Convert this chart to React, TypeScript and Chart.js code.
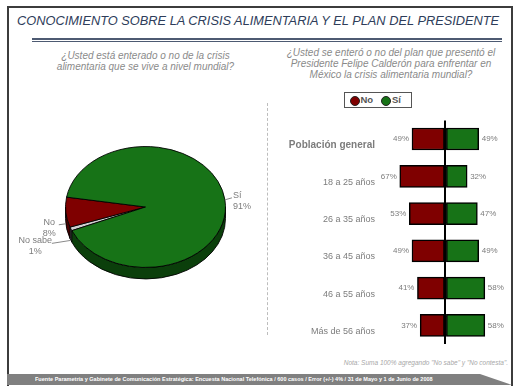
import React, { useEffect, useRef } from "react";
import { Chart, registerables } from "chart.js";
Chart.register(...registerables);

// ---------- data ----------
const pieLabels = ["No sabe", "No", "Sí"];
const pieValues = [1, 8, 91];

const groupLabels = [
  "Población general",
  "18 a 25 años",
  "26 a 35 años",
  "36 a 45 años",
  "46 a 55 años",
  "Más de 56 años",
];
const seriesNames = ["No", "Sí"];
const noValues = [49, 67, 53, 49, 41, 37];
const siValues = [49, 32, 47, 49, 58, 58];

// ---------- styles ----------
const FONT = "'Liberation Sans', Arial, sans-serif";
const RED = "#7f0000";
const GREEN = "#177317";
const GREY_SLICE = "#cfcfcf";
const pieTopColors = [GREY_SLICE, RED, GREEN];
const pieSideColors = ["#7a7a7a", "#4a0000", "#0b3f0b"];
const TEXT_GREY = "#7c7c7c";
const PIE_K = 0.756;
const PIE_DEPTH = 11.5;

Chart.defaults.font.family = FONT;

const pie3dPlugin = {
  id: "pie3d",
  beforeDatasetsDraw(chart: any) {
    const arcs = chart.getDatasetMeta(0).data;
    const ctx = chart.ctx;
    ctx.save();
    chart.$pieSaved = true;
    if (!arcs.length) return;
    const cx = arcs[0].x;
    const cy = arcs[0].y;
    ctx.translate(cx, cy);
    ctx.scale(1, PIE_K);
    ctx.translate(-cx, -cy);
    const d = PIE_DEPTH / PIE_K;
    const TWO = Math.PI * 2;
    arcs.forEach((arc: any, i: number) => {
      const s = arc.startAngle;
      const e = arc.endAngle;
      const r = arc.outerRadius;
      for (let n = -2; n <= 2; n++) {
        const a0 = Math.max(s, n * TWO);
        const a1 = Math.min(e, n * TWO + Math.PI);
        if (a1 > a0) {
          ctx.beginPath();
          ctx.arc(cx, cy, r, a0, a1);
          ctx.arc(cx, cy + d, r, a1, a0, true);
          ctx.closePath();
          ctx.fillStyle = pieSideColors[i];
          ctx.fill();
          ctx.lineWidth = 1;
          ctx.strokeStyle = "#000";
          ctx.stroke();
        }
      }
    });
  },
  afterDatasetsDraw(chart: any) {
    if (chart.$pieSaved) {
      chart.ctx.restore();
      chart.$pieSaved = false;
    }
  },
  afterDraw(chart: any) {
    const arcs = chart.getDatasetMeta(0).data;
    const ctx = chart.ctx;
    ctx.save();
    ctx.font = `9px ${FONT}`;
    ctx.fillStyle = TEXT_GREY;
    ctx.strokeStyle = "#8a8a8a";
    ctx.lineWidth = 1;
    ctx.textBaseline = "middle";
    arcs.forEach((arc: any, i: number) => {
      const m = (arc.startAngle + arc.endAngle) / 2;
      const c = Math.cos(m);
      const sn = Math.sin(m);
      const ax = arc.x + arc.outerRadius * c;
      const ay = arc.y + arc.outerRadius * PIE_K * sn + (sn > 0 ? PIE_DEPTH : 0);
      const right = c >= 0;
      const small = pieValues[i] < 5;
      const len = small ? 19 : 7;
      const ex = right ? ax + len : ax - len;
      const ey = right ? ay - 2 : ay + (small ? 3 : 1);
      ctx.beginPath();
      ctx.moveTo(ax, ay);
      ctx.lineTo(ex, ey);
      ctx.stroke();
      const l1 = pieLabels[i];
      const l2 = pieValues[i] + "%";
      const w = Math.max(ctx.measureText(l1).width, ctx.measureText(l2).width);
      if (right) {
        ctx.textAlign = "left";
        ctx.fillText(l1, ex + 1, ey - 2.5);
        ctx.fillText(l2, ex + 1, ey + 8.5);
      } else {
        const tcx = ex - (small ? 0 : 3) - w / 2;
        ctx.textAlign = "center";
        ctx.fillText(l1, tcx, ey - 2.5);
        ctx.fillText(l2, tcx, ey + 8.5);
      }
    });
    ctx.restore();
  },
};

const barLabelPlugin = {
  id: "barLabels",
  afterDatasetsDraw(chart: any) {
    const ctx = chart.ctx;
    ctx.save();
    ctx.font = `8px ${FONT}`;
    ctx.fillStyle = TEXT_GREY;
    ctx.textBaseline = "middle";
    chart.data.datasets.forEach((_ds: any, di: number) => {
      const meta = chart.getDatasetMeta(di);
      const vals = di === 0 ? noValues : siValues;
      meta.data.forEach((bar: any, i: number) => {
        ctx.textAlign = di === 0 ? "right" : "left";
        ctx.fillText(vals[i] + "%", di === 0 ? bar.x - 3 : bar.x + 3, bar.y);
      });
    });
    ctx.restore();
  },
};

function PieChart() {
  const ref = useRef<HTMLCanvasElement>(null);
  useEffect(() => {
    const chart = new Chart(ref.current!, {
      type: "pie",
      data: {
        labels: pieLabels,
        datasets: [
          {
            data: pieValues,
            backgroundColor: pieTopColors,
            borderColor: "#000",
            borderWidth: 1,
          },
        ],
      },
      options: {
        responsive: false,
        animation: false,
        rotation: 247,
        radius: 80,
        layout: { padding: { left: 25, right: 0, top: 0, bottom: 6 } },
        plugins: { legend: { display: false }, tooltip: { enabled: false } },
      } as any,
      plugins: [pie3dPlugin],
    });
    return () => chart.destroy();
  }, []);
  return (
    <canvas
      ref={ref}
      width={250}
      height={260}
      style={{ position: "absolute", left: 8, top: 80, width: 250, height: 260 }}
    />
  );
}

function BarChart() {
  const ref = useRef<HTMLCanvasElement>(null);
  useEffect(() => {
    const chart = new Chart(ref.current!, {
      type: "bar",
      data: {
        labels: groupLabels,
        datasets: [
          {
            label: seriesNames[0],
            data: noValues.map((v) => -v),
            backgroundColor: RED,
            borderColor: "#000",
            borderWidth: 1.5,
            borderSkipped: false,
            barThickness: 22,
          },
          {
            label: seriesNames[1],
            data: siValues,
            backgroundColor: GREEN,
            borderColor: "#000",
            borderWidth: 1.5,
            borderSkipped: false,
            barThickness: 22,
          },
        ],
      },
      options: {
        responsive: false,
        animation: false,
        indexAxis: "y",
        layout: { padding: { left: 0, right: 0, top: 7, bottom: 10 } },
        scales: {
          x: {
            stacked: true,
            min: -96,
            max: 92,
            z: 1,
            ticks: { display: false },
            border: { display: false },
            grid: { drawTicks: false, color: "#000", lineWidth: 2 },
            afterBuildTicks: (s: any) => {
              s.ticks = [{ value: 0 }];
            },
          },
          y: {
            stacked: true,
            border: { display: false },
            grid: { display: false, drawTicks: false },
            ticks: {
              padding: 5,
              labelOffset: 6,
              color: TEXT_GREY,
              font: (c: any) =>
                c.index === 0
                  ? { size: 10, weight: "bold", family: FONT }
                  : { size: 9, family: FONT },
            },
            afterFit: (s: any) => {
              s.width = 118;
            },
          },
        },
        plugins: { legend: { display: false }, tooltip: { enabled: false } },
      } as any,
      plugins: [barLabelPlugin],
    });
    return () => chart.destroy();
  }, []);
  return (
    <canvas
      ref={ref}
      width={246}
      height={245}
      style={{ position: "absolute", left: 262, top: 110, width: 246, height: 245 }}
    />
  );
}

export default function App() {
  const abs: React.CSSProperties = { position: "absolute" };
  const dot = (left: number, color: string): React.CSSProperties => ({
    ...abs,
    left,
    top: 2.5,
    width: 8,
    height: 8,
    borderRadius: "50%",
    background: color,
    border: "0.5px solid #222",
  });
  const legText = (left: number): React.CSSProperties => ({
    ...abs,
    left,
    top: 0,
    lineHeight: "14px",
    fontSize: 9.5,
    fontWeight: "bold",
    color: "#555",
  });
  return (
    <div
      style={{
        position: "absolute",
        left: 0,
        top: 0,
        width: 520,
        height: 391,
        background: "#fff",
        fontFamily: FONT,
        overflow: "hidden",
      }}
    >
      {/* frame */}
      <div
        style={{
          ...abs,
          left: 7,
          top: 6,
          width: 502,
          height: 378,
          borderTop: "2px solid #3c3c3c",
          borderLeft: "2px solid #3c3c3c",
          borderRight: "2px solid #3c3c3c",
        }}
      />
      {/* title */}
      <div
        style={{
          ...abs,
          left: 17,
          top: 12,
          height: 17,
          lineHeight: "17px",
          fontSize: 12.8,
          fontStyle: "italic",
          color: "#2e3d5a",
          whiteSpace: "nowrap",
        }}
      >
        CONOCIMIENTO SOBRE LA CRISIS ALIMENTARIA Y EL PLAN DEL PRESIDENTE
      </div>
      <div
        style={{
          ...abs,
          left: 32,
          top: 38,
          width: 470,
          height: 1,
          borderTop: "2px solid #4d5a72",
          borderBottom: "1px solid #4d5a72",
        }}
      />
      {/* questions */}
      <div
        style={{
          ...abs,
          left: 20,
          top: 49.5,
          width: 251,
          textAlign: "center",
          fontSize: 10,
          lineHeight: "11px",
          fontStyle: "italic",
          color: "#8a8a8a",
          whiteSpace: "nowrap",
        }}
      >
        ¿Usted está enterado o no de la crisis
        <br />
        alimentaria que se vive a nivel mundial?
      </div>
      <div
        style={{
          ...abs,
          left: 281,
          top: 46.5,
          width: 220,
          textAlign: "center",
          fontSize: 10,
          lineHeight: "11.3px",
          fontStyle: "italic",
          color: "#8a8a8a",
          whiteSpace: "nowrap",
        }}
      >
        ¿Usted se enteró o no del plan que presentó el
        <br />
        Presidente Felipe Calderón para enfrentar en
        <br />
        México la crisis alimentaria mundial?
      </div>
      {/* legend */}
      <div
        style={{
          ...abs,
          left: 344,
          top: 92,
          width: 66,
          height: 14,
          border: "1px solid #555",
          background: "#fff",
        }}
      >
        <div style={dot(4.5, RED)} />
        <div style={legText(15.5)}>{seriesNames[0]}</div>
        <div style={dot(35.5, GREEN)} />
        <div style={legText(47)}>{seriesNames[1]}</div>
      </div>
      {/* dashed separator */}
      <div style={{ ...abs, left: 267, top: 103, height: 232, borderLeft: "1px dashed #bdbdbd" }} />

      <PieChart />
      <BarChart />

      {/* note */}
      <div
        style={{
          ...abs,
          right: 12,
          top: 358,
          lineHeight: "9px",
          fontSize: 6.5,
          fontStyle: "italic",
          color: "#a8a8a8",
          whiteSpace: "nowrap",
        }}
      >
        Nota: Suma 100% agregando "No sabe" y "No contesta".
      </div>
      {/* footer */}
      <div
        style={{
          ...abs,
          left: 7,
          top: 374,
          width: 505,
          height: 11,
          background: "#808080",
          clipPath: "polygon(0 0, 473px 0, 100% 100%, 0 100%)",
        }}
      >
        <div
          style={{
            ...abs,
            left: 28,
            top: 0,
            lineHeight: "11px",
            fontSize: 6,
            fontWeight: "bold",
            color: "#fff",
            whiteSpace: "nowrap",
            transform: "scaleX(0.92)",
            transformOrigin: "0 50%",
          }}
        >
          Fuente Parametría y Gabinete de Comunicación Estratégica: Encuesta Nacional Telefónica / 600 casos / Error (+/-) 4% / 31 de Mayo y 1 de Junio de 2008
        </div>
      </div>
    </div>
  );
}
